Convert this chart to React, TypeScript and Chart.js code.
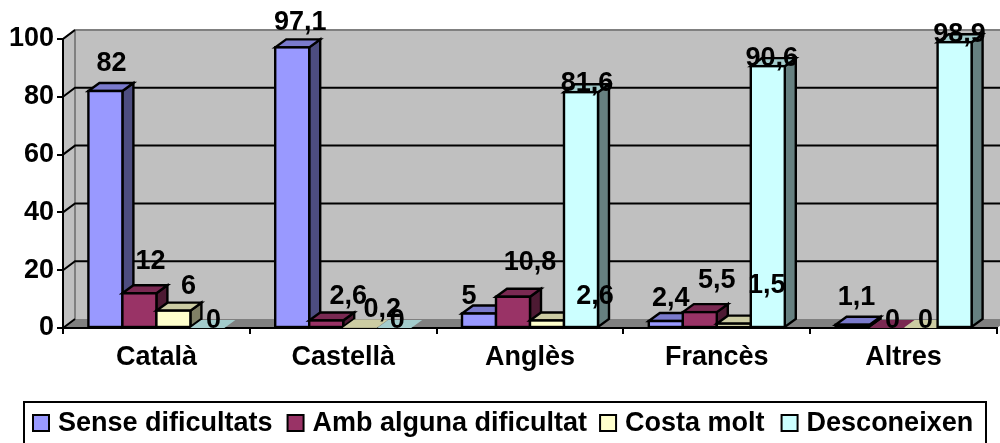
import React, { useEffect, useRef } from "react";
import { Chart, registerables } from "chart.js";

Chart.register(...registerables);

const categories = ["Català", "Castellà", "Anglès", "Francès", "Altres"];
const seriesNames = ["Sense dificultats", "Amb alguna dificultat", "Costa molt", "Desconeixen"];
const senseDificultats = [82, 97.1, 5, 2.4, 1.1];
const ambAlgunaDificultat = [12, 2.6, 10.8, 5.5, 0];
const costaMolt = [6, 0.2, 2.6, 1.5, 0];
const desconeixen = [0, 0, 81.6, 90.6, 98.9];
const seriesValues = [senseDificultats, ambAlgunaDificultat, costaMolt, desconeixen];
const yTicks = [0, 20, 40, 60, 80, 100];

const frontColors = ["#9999FF", "#993366", "#FFFFCC", "#CCFFFF"];
const topColors = ["#7A7ACC", "#7A2952", "#CCCCA3", "#A3CCCC"];
const sideColors = ["#4D4D80", "#4D1A33", "#808066", "#668080"];

// Hand-placed label shifts from each bar's top centre, as in the source chart.
const labelShiftX = [
  [6, 8, -10, 5, 4],
  [11, 22, 17, 17, 6],
  [15, 22, 48, 33, 5],
  [6, 3, 6, 4, 5],
];
const labelShiftY = [
  [-27, -25, -17, -23, -27],
  [-32, -24, -34, -32, -7],
  [-24, -18, -24, -38, -7],
  [-7, -7, -9, -8, -8],
];
const legendGaps = [15, 13, 17, 0];

const FAMILY = '"Liberation Sans", Arial, sans-serif';
const FONT_SIZE = 27;
const FONT = `bold ${FONT_SIZE}px ${FAMILY}`;
const BAR_DX = 11;
const BAR_DY = 8;
const WALL_DX = 12;
const WALL_DY = 9;

function poly(ctx: CanvasRenderingContext2D, pts: number[][]) {
  ctx.beginPath();
  pts.forEach((p, i) => (i ? ctx.lineTo(p[0], p[1]) : ctx.moveTo(p[0], p[1])));
  ctx.closePath();
}

const box3d = {
  id: "box3d",
  beforeDraw(chart: any) {
    const { ctx, chartArea: a, scales } = chart;
    const y = scales.y;
    ctx.save();
    // back and left walls
    ctx.fillStyle = "#C0C0C0";
    poly(ctx, [[a.left, a.top], [a.left + WALL_DX, a.top - WALL_DY], [a.right + WALL_DX, a.top - WALL_DY], [a.right + WALL_DX, a.bottom - WALL_DY], [a.left + WALL_DX, a.bottom - WALL_DY], [a.left, a.bottom]]);
    ctx.fill();
    // floor
    ctx.fillStyle = "#808080";
    poly(ctx, [[a.left, a.bottom], [a.left + WALL_DX, a.bottom - WALL_DY], [a.right + WALL_DX, a.bottom - WALL_DY], [a.right, a.bottom]]);
    ctx.fill();
    // wall edges
    ctx.strokeStyle = "#808080";
    ctx.lineWidth = 2;
    ctx.beginPath();
    ctx.moveTo(a.left, a.top);
    ctx.lineTo(a.left + WALL_DX, a.top - WALL_DY);
    ctx.lineTo(a.right + WALL_DX, a.top - WALL_DY);
    ctx.moveTo(a.left + WALL_DX, a.top - WALL_DY);
    ctx.lineTo(a.left + WALL_DX, a.bottom - WALL_DY);
    ctx.stroke();
    // gridlines, from the y scale
    ctx.strokeStyle = "#000";
    yTicks.forEach((t) => {
      if (t === 0 || t === 100) return;
      const py = y.getPixelForValue(t);
      ctx.beginPath();
      ctx.moveTo(a.left, py);
      ctx.lineTo(a.left + WALL_DX, py - WALL_DY);
      ctx.lineTo(a.right + WALL_DX, py - WALL_DY);
      ctx.stroke();
    });
    ctx.beginPath();
    ctx.moveTo(a.left, a.top);
    ctx.lineTo(a.left + WALL_DX, a.top - WALL_DY);
    ctx.moveTo(a.left, a.bottom);
    ctx.lineTo(a.left + WALL_DX, a.bottom - WALL_DY);
    ctx.stroke();
    ctx.restore();
  },
  beforeDatasetsDraw(chart: any) {
    const { ctx, chartArea } = chart;
    ctx.save();
    ctx.lineWidth = 2.4;
    ctx.strokeStyle = "#000";
    ctx.lineJoin = "miter";
    seriesValues.forEach((vals, s) => {
      const meta = chart.getDatasetMeta(s);
      meta.data.forEach((el: any, i: number) => {
        const x0 = el.x - el.width / 2;
        const x1 = el.x + el.width / 2;
        const yt = el.y;
        const yb = el.base;
        const outlined = vals[i] >= 1;
        if (yb - yt > 0.5) {
          ctx.fillStyle = sideColors[s];
          poly(ctx, [[x1, yt], [x1 + BAR_DX, yt - BAR_DY], [x1 + BAR_DX, yb - BAR_DY], [x1, yb]]);
          ctx.fill();
          if (outlined) ctx.stroke();
        }
        ctx.fillStyle = topColors[s];
        poly(ctx, [[x0, yt], [x0 + BAR_DX, yt - BAR_DY], [x1 + BAR_DX, yt - BAR_DY], [x1, yt]]);
        ctx.fill();
        if (outlined) ctx.stroke();
        el.draw(ctx, chartArea);
        if (outlined) ctx.strokeRect(x0, yt, x1 - x0, yb - yt);
      });
    });
    ctx.restore();
    return false; // the bars are fully drawn above, left to right
  },
  afterDraw(chart: any) {
    const { ctx } = chart;
    ctx.save();
    // data labels
    ctx.font = FONT;
    ctx.fillStyle = "#000";
    ctx.textAlign = "center";
    ctx.textBaseline = "middle";
    seriesValues.forEach((vals, s) => {
      chart.getDatasetMeta(s).data.forEach((el: any, i: number) => {
        ctx.fillText(String(vals[i]).replace(".", ","), el.x + labelShiftX[s][i], el.y + labelShiftY[s][i]);
      });
    });
    // legend
    ctx.strokeStyle = "#000";
    ctx.lineWidth = 2;
    ctx.fillStyle = "#fff";
    ctx.fillRect(24, 402, 962, 46);
    ctx.strokeRect(24, 402, 962, 46);
    let x = 33;
    ctx.textAlign = "left";
    seriesNames.forEach((name, s) => {
      ctx.fillStyle = frontColors[s];
      ctx.fillRect(x, 415, 16, 16);
      ctx.strokeRect(x, 415, 16, 16);
      ctx.fillStyle = "#000";
      ctx.fillText(name, x + 25, 424);
      x += 25 + ctx.measureText(name).width + legendGaps[s];
    });
    ctx.restore();
  },
};

export default function App() {
  const ref = useRef<HTMLCanvasElement>(null);
  useEffect(() => {
    const chart = new Chart(ref.current as HTMLCanvasElement, {
      type: "bar",
      data: {
        labels: categories,
        datasets: seriesNames.map((label, s) => ({
          label,
          data: seriesValues[s],
          backgroundColor: frontColors[s],
          borderWidth: 0,
          categoryPercentage: 0.728,
          barPercentage: 1,
        })),
      },
      options: {
        animation: false,
        responsive: false,
        layout: { padding: { top: 39, right: 3, left: 0, bottom: 0 } },
        plugins: { legend: { display: false }, tooltip: { enabled: false }, title: { display: false } },
        scales: {
          x: {
            afterFit: (s: any) => { s.height = 443 - 328; },
            grid: { drawOnChartArea: false, drawTicks: true, tickLength: 6, color: "#000", lineWidth: 2 },
            border: { color: "#000", width: 2 },
            ticks: { color: "#000", font: { family: FAMILY, size: FONT_SIZE, weight: "bold" }, padding: 7, maxRotation: 0 },
          },
          y: {
            min: 0,
            max: 100,
            afterFit: (s: any) => { s.width = 63; },
            afterBuildTicks: (s: any) => { s.ticks = yTicks.map((value) => ({ value })); },
            grid: { drawOnChartArea: false, drawTicks: true, tickLength: 6, color: "#000", lineWidth: 2 },
            border: { color: "#000", width: 2 },
            ticks: { color: "#000", font: { family: FAMILY, size: FONT_SIZE, weight: "bold" }, padding: 3 },
          },
        },
      },
      plugins: [box3d],
    } as any);
    return () => chart.destroy();
  }, []);
  return (
    <div style={{ position: "absolute", left: 0, top: 0, width: 1000, height: 443, background: "#fff" }}>
      <canvas ref={ref} width={1000} height={443} style={{ display: "block" }} />
    </div>
  );
}
